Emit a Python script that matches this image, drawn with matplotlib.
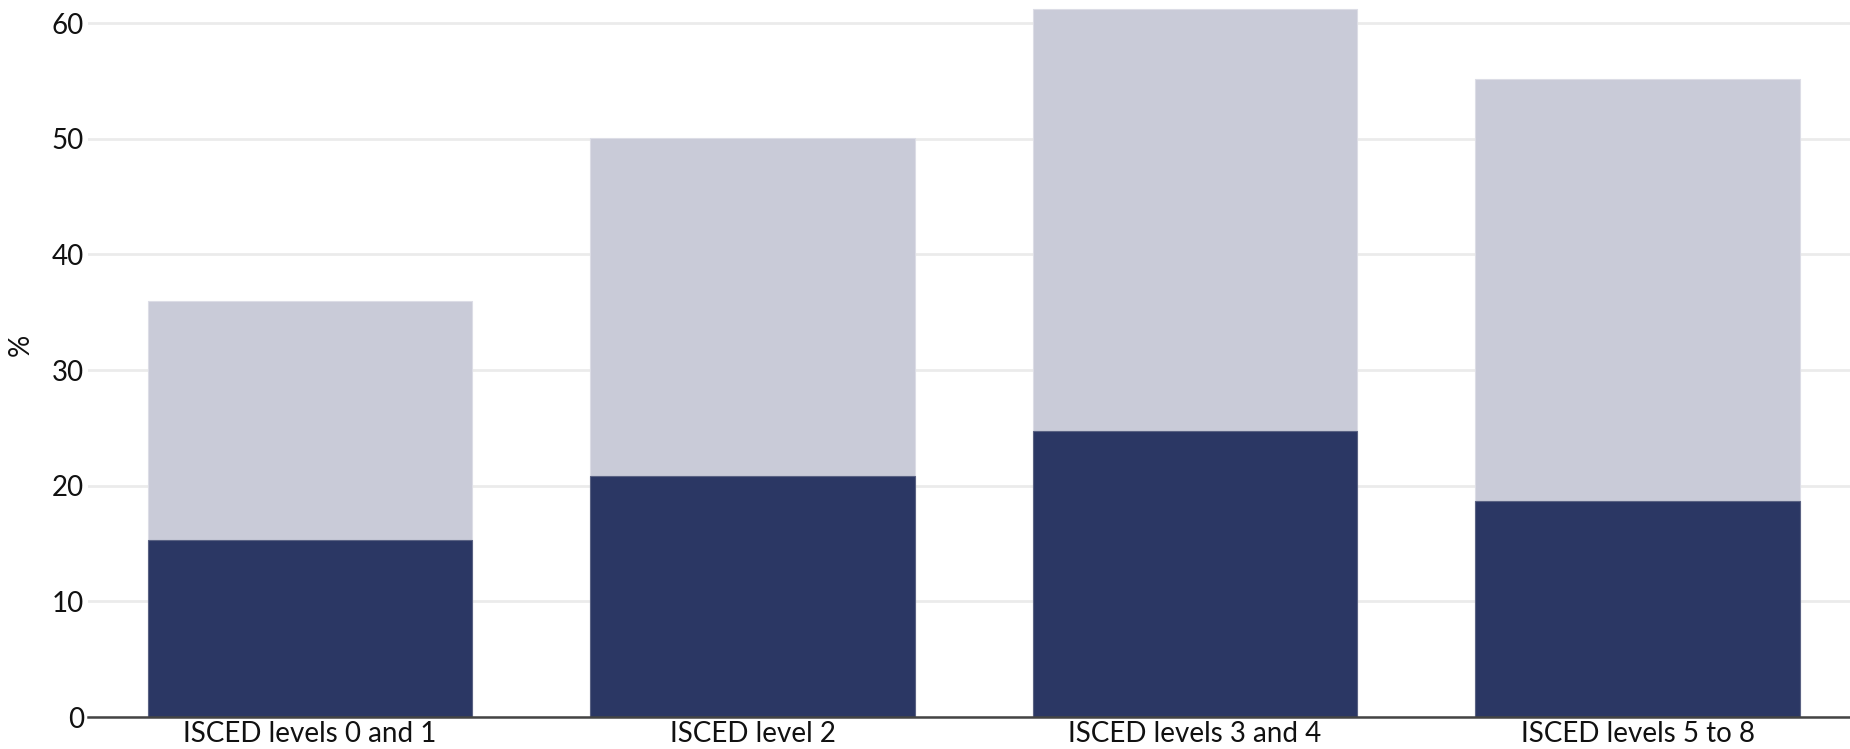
import numpy as np
import matplotlib.pyplot as plt

categories = ['ISCED levels 0 and 1', 'ISCED level 2', 'ISCED levels 3 and 4', 'ISCED levels 5 to 8']
total = [36.0, 50.1, 61.2, 55.2]
part = [15.3, 20.8, 24.7, 18.7]

plt.rcParams['font.family'] = ['Lato', 'DejaVu Sans']

fig = plt.figure(figsize=(18.5, 7.49), dpi=100)
ax = fig.add_axes([88 / 1850, 1 - 717 / 749, 1 - 88 / 1850, 717 / 749])

x = np.arange(len(categories))
ax.bar(x, total, width=0.733, color='#c9cbd8', edgecolor='#dcdde6', linewidth=0.8, zorder=2)
ax.bar(x, part, width=0.733, color='#2b3764', edgecolor='#5a6283', linewidth=0.8, zorder=3)

ax.set_xlim(-0.502, 3.48)
ax.set_ylim(0, 62)
ax.set_yticks([0, 10, 20, 30, 40, 50, 60])
ax.set_xticks(x)
ax.set_xticklabels(categories)
ax.tick_params(axis='both', length=0, labelsize=20, colors='#111111')
ax.tick_params(axis='y', pad=3)
ax.tick_params(axis='x', pad=3)
ax.grid(axis='y', color='#ebebeb', linewidth=2, zorder=0)
ax.set_axisbelow(True)
for s in ['top', 'right', 'left']:
    ax.spines[s].set_visible(False)
ax.spines['bottom'].set_color('#444444')
ax.spines['bottom'].set_linewidth(1.8)
ax.spines['bottom'].set_zorder(4)
ax.set_ylabel('%', fontsize=20, color='#111111')
ax.yaxis.set_label_coords(-(88 - 34) / 1762, 1 - 345 / 717)

fig.savefig('out.png', dpi=100)
